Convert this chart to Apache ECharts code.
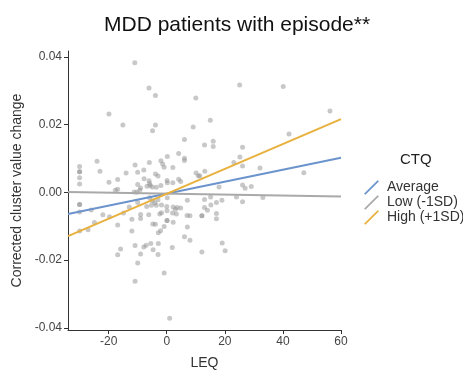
<!DOCTYPE html>
<html>
<head>
<meta charset="utf-8">
<script src="https://cdn.jsdelivr.net/npm/echarts@6/dist/echarts.min.js"></script>
<style>
  html, body { margin: 0; padding: 0; background: #fff; }
  #chart { width: 463px; height: 375px; }
</style>
</head>
<body>
<div id="chart"></div>
<script>
// 散点数据: LEQ (x) 与 Corrected cluster value change (y)
var leq = [
  -11.0, -6.1, -3.9, 10.0, -19.9, -15.1, -3.9, -4.9, 9.1, 15.0,
  25.1, 40.1, 56.2, 42.1, 6.1, 13.0, 16.0, 16.0, 26.1, 25.2,
  4.1, 0.2, -24.0, -23.0, -30.0, -30.0, -30.0, -30.0, -30.0, -19.9,
  -16.9, -14.0, -10.9, -10.0, -7.9, -6.0, -2.0, -1.4, -0.9, 2.1,
  6.1, 6.1, 23.1, 26.1, 32.1, 47.2, -3.9, -3.0, -7.8, -6.1,
  -10.0, -9.0, -9.3, -6.8, -5.7, -5.0, -3.6, -2.0, 0.1, 0.2,
  2.1, 4.1, 4.8, 10.1, 10.9, 13.1, 11.4, 18.0, 26.1, 27.0,
  29.1, -17.7, -16.9, -11.2, -10.3, -5.9, -30.0, -30.0, -30.0, -30.0,
  -27.1, -26.0, -24.9, -22.0, -19.7, -16.9, -14.9, -12.9, -10.0, -12.0,
  -12.0, -9.0, -9.0, -6.9, -5.0, -4.1, -3.0, -6.2, -4.8, -3.9,
  -2.4, -1.8, -5.9, -3.6, -1.8, 0.0, 0.2, 0.1, 0.1, 0.1,
  -0.9, -2.9, -2.1, 2.2, 2.0, 3.0, 3.6, 4.8, 3.3, 2.2,
  7.1, 7.0, 8.0, 7.1, 6.1, 8.0, 12.1, 12.1, 13.0, 15.1,
  17.1, 19.0, 13.0, 14.0, 15.2, 17.1, 17.1, 24.0, 26.1, 33.1,
  19.1, 20.1, 12.1, -10.9, -9.0, -7.9, -7.1, -5.5, -4.7, -2.9,
  -3.0, -15.9, -16.9, -10.0, 1.9, -0.9, -10.9, 1.0, -5.3
];
var clusterChange = [
  0.0382, 0.0308, 0.0286, 0.0278, 0.0231, 0.0199, 0.0199, 0.0182, 0.0193, 0.0213,
  0.0317, 0.0312, 0.0240, 0.0172, 0.0156, 0.0140, 0.0151, 0.0135, 0.0133, 0.0104,
  0.0115, 0.0106, 0.0092, 0.0062, 0.0076, 0.0061, 0.0061, 0.0043, 0.0025, 0.0030,
  0.0038, 0.0057, 0.0081, 0.0059, 0.0066, 0.0088, 0.0093, 0.0084, 0.0074, 0.0073,
  0.0101, 0.0094, 0.0088, 0.0078, 0.0072, 0.0058, 0.0054, 0.0048, 0.0040, 0.0034,
  0.0023, 0.0013, 0.0006, 0.0018, 0.0020, 0.0016, 0.0015, 0.0020, 0.0035, 0.0028,
  0.0028, 0.0039, 0.0032, 0.0057, 0.0048, 0.0062, 0.0049, 0.0016, 0.0022, 0.0012,
  0.0017, 0.0006, 0.0009, 0.0001, 0.0000, 0.0026, -0.0036, -0.0036, -0.0058, -0.0114,
  -0.0110, -0.0052, -0.0089, -0.0066, -0.0072, -0.0096, -0.0061, -0.0043, -0.0030, -0.0079,
  -0.0114, -0.0065, -0.0077, -0.0042, -0.0025, -0.0031, -0.0022, -0.0066, -0.0093, -0.0094,
  -0.0064, -0.0060, -0.0016, -0.0038, -0.0037, -0.0042, -0.0016, -0.0054, -0.0083, -0.0083,
  -0.0101, -0.0119, -0.0113, -0.0043, -0.0061, -0.0050, -0.0045, -0.0046, -0.0064, -0.0088,
  -0.0023, -0.0068, -0.0069, -0.0102, -0.0131, -0.0141, -0.0069, -0.0069, -0.0021, -0.0014,
  -0.0030, -0.0023, -0.0045, -0.0053, -0.0037, -0.0062, -0.0078, -0.0014, -0.0028, -0.0015,
  -0.0149, -0.0172, -0.0176, -0.0157, -0.0182, -0.0161, -0.0156, -0.0151, -0.0169, -0.0151,
  -0.0183, -0.0167, -0.0184, -0.0208, -0.0163, -0.0238, -0.0262, -0.0371, -0.0038
];

// 回归线 (CTQ 三个水平), 端点在 x 轴两端
var lineX = [-34, 60];
var averageLine = [-0.0064, 0.0102];
var lowLine = [0.0001, -0.0012];
var highLine = [-0.0129, 0.0216];

// 刻度
var xTicks = [-20, 0, 20, 40, 60];
var yTicks = [-0.04, -0.02, 0, 0.02, 0.04];

var lineNames = ['Average', 'Low (-1SD)', 'High (+1SD)'];
var lineColors = ['#6b93cc', '#a9a9a9', '#e8b03c'];

function pairs(xs, ys) {
  return xs.map(function (x, i) { return [x, ys[i]]; });
}

var chart = echarts.init(document.getElementById('chart'));

var fontFamily = '"Liberation Sans", Arial, sans-serif';
var diagIcon = 'path://M0,14.5 L14,0.5 L15.5,1.5 L1.5,15.5 Z';

var option = {
  animation: false,
  textStyle: { fontFamily: fontFamily },
  title: [{
    text: 'MDD patients with episode**',
    left: 99,
    top: 10,
    textStyle: { fontSize: 21, fontWeight: 'normal', color: '#111', fontFamily: fontFamily }
  }, {
    text: 'CTQ',
    left: 400,
    top: 152,
    padding: 0,
    textStyle: { fontSize: 15, fontWeight: 'normal', color: '#222', fontFamily: fontFamily }
  }],
  legend: {
    orient: 'vertical',
    left: 364,
    top: 180,
    padding: 0,
    itemGap: 0,
    itemWidth: 15,
    itemHeight: 15,
    textStyle: { fontSize: 14, color: '#333', lineHeight: 15, padding: [0, 0, 0, 3], fontFamily: fontFamily },
    data: lineNames.map(function (n) { return { name: n, icon: diagIcon }; })
  },
  grid: { left: 68, right: 122, top: 51, bottom: 40 },
  xAxis: {
    type: 'value',
    min: -34,
    max: 60,
    name: 'LEQ',
    nameLocation: 'middle',
    nameGap: 26,
    nameTextStyle: { fontSize: 14, color: '#333' },
    splitLine: { show: false },
    axisLine: { show: true, onZero: false, lineStyle: { color: '#333', width: 1 } },
    axisTick: { show: true, length: 4, customValues: xTicks, lineStyle: { color: '#333' } },
    axisLabel: { customValues: xTicks, fontSize: 12, color: '#444', margin: 6 }
  },
  yAxis: {
    type: 'value',
    min: -0.0406,
    max: 0.0417,
    name: 'Corrected cluster value change',
    nameLocation: 'middle',
    nameGap: 42,
    nameTextStyle: { fontSize: 14, color: '#333' },
    splitLine: { show: false },
    axisLine: { show: true, onZero: false, lineStyle: { color: '#333', width: 1 } },
    axisTick: { show: true, length: 4, customValues: yTicks, lineStyle: { color: '#333' } },
    axisLabel: {
      customValues: yTicks,
      fontSize: 12,
      color: '#444',
      margin: 6,
      formatter: function (v) { return v.toFixed(2); }
    }
  },
  series: [{
    type: 'scatter',
    name: 'points',
    data: pairs(leq, clusterChange),
    symbolSize: 5,
    itemStyle: { color: 'rgba(140,140,140,0.6)' },
    z: 1
  }].concat([averageLine, lowLine, highLine].map(function (ys, i) {
    return {
      type: 'line',
      name: lineNames[i],
      data: pairs(lineX, ys),
      showSymbol: false,
      symbol: 'none',
      lineStyle: { color: lineColors[i], width: 2 },
      itemStyle: { color: lineColors[i] },
      z: 3
    };
  }))
};

chart.setOption(option);
</script>
</body>
</html>
